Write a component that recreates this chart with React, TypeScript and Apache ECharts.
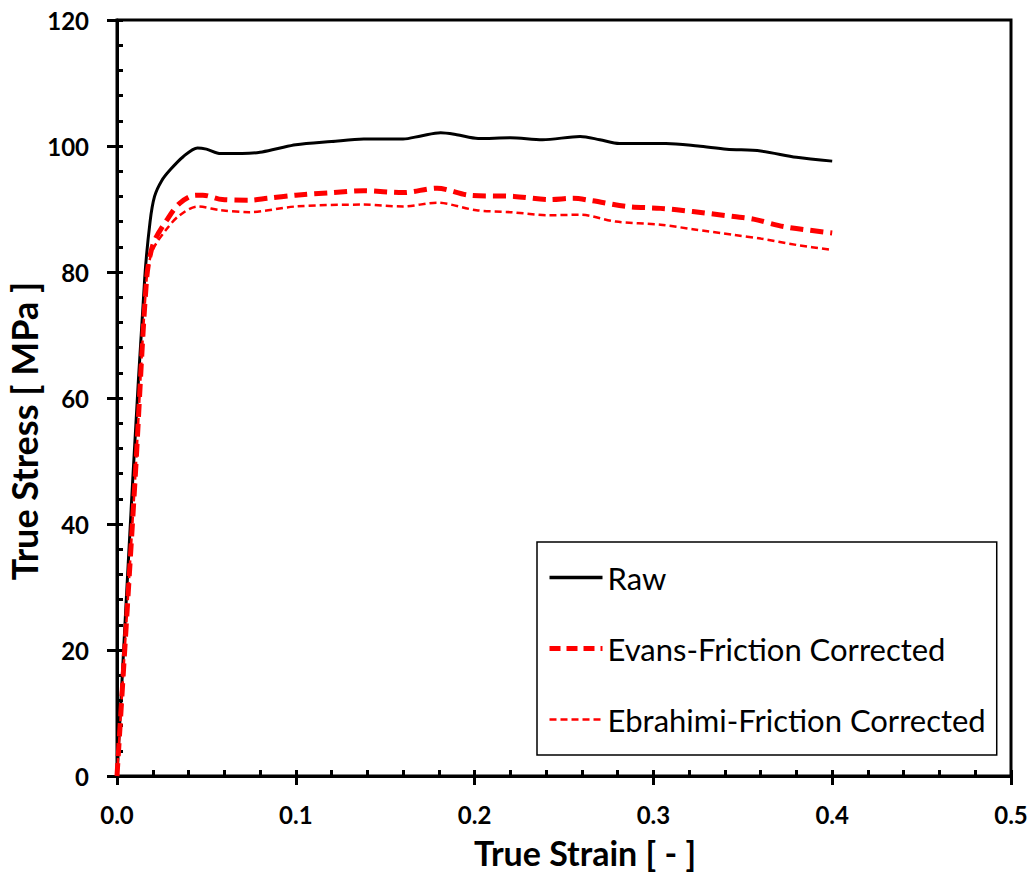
import React, { useEffect, useRef } from "react";
import * as echarts from "echarts";

const xTicks = [0, 0.1, 0.2, 0.3, 0.4, 0.5];
const yTicks = [0, 20, 40, 60, 80, 100, 120];

const seriesNames = ["Raw", "Evans-Friction Corrected", "Ebrahimi-Friction Corrected"];

const rawStrain = [0, 0.0088, 0.0155, 0.0185, 0.021, 0.025, 0.03, 0.037, 0.045, 0.05, 0.058, 0.07, 0.08, 0.09, 0.1, 0.12, 0.138, 0.16, 0.17, 0.181, 0.19, 0.202, 0.22, 0.238, 0.259, 0.27, 0.281, 0.307, 0.325, 0.341, 0.36, 0.38, 0.4];
const rawStress = [0, 47, 79, 88, 92, 94.5, 96.3, 98.3, 99.7, 99.5, 98.8, 98.8, 99.0, 99.6, 100.2, 100.7, 101.1, 101.1, 101.6, 102.1, 101.8, 101.2, 101.3, 101.0, 101.5, 101.0, 100.4, 100.4, 100.0, 99.5, 99.2, 98.2, 97.6];

const evansStrain = [0, 0.0101, 0.0166, 0.0203, 0.028, 0.035, 0.044, 0.048, 0.059, 0.074, 0.084, 0.1, 0.12, 0.138, 0.16, 0.179, 0.197, 0.222, 0.242, 0.255, 0.266, 0.285, 0.304, 0.322, 0.345, 0.356, 0.373, 0.4];
const evansStress = [0, 47, 79, 84.5, 88.3, 90.9, 92.2, 92.2, 91.5, 91.4, 91.7, 92.2, 92.6, 92.9, 92.6, 93.3, 92.2, 92.0, 91.5, 91.7, 91.3, 90.4, 90.1, 89.6, 88.8, 88.4, 87.2, 86.2];

const ebrahimiStrain = [0, 0.0101, 0.0166, 0.02, 0.028, 0.035, 0.045, 0.058, 0.074, 0.1, 0.138, 0.16, 0.179, 0.201, 0.22, 0.242, 0.259, 0.279, 0.304, 0.322, 0.345, 0.36, 0.38, 0.4];
const ebrahimiStress = [0, 47, 79, 83.5, 86.9, 89.0, 90.4, 89.8, 89.5, 90.4, 90.7, 90.4, 91.0, 89.8, 89.5, 89.0, 89.1, 88.0, 87.5, 86.8, 85.9, 85.3, 84.3, 83.5];

const xTitle = "True Strain [ - ]";
const yTitle = "True Stress [ MPa ]";

const zip = (a: number[], b: number[]) => a.map((v, i) => [v, b[i]]);

export default function App() {
  const ref = useRef<HTMLDivElement>(null);
  useEffect(() => {
    if (!ref.current) return;
    const chart = echarts.init(ref.current, null, { renderer: "svg" });
    const font = "Lato";
    const xMin = xTicks[0];
    const xMax = xTicks[xTicks.length - 1];
    const yMin = yTicks[0];
    const yMax = yTicks[yTicks.length - 1];
    const xInt = xTicks[1] - xTicks[0];
    const yInt = yTicks[1] - yTicks[0];
    const axisLine = { show: true, onZero: false, lineStyle: { color: "#000", width: 3 } };
    chart.setOption({
      animation: false,
      backgroundColor: "#fff",
      grid: {
        left: 117,
        top: 20,
        right: 24,
        bottom: 99,
        show: true,
        borderColor: "#000",
        borderWidth: 3,
        backgroundColor: "transparent",
      },
      legend: {
        orient: "vertical",
        left: 537,
        top: 542,
        padding: [19, 11, 19, 10],
        borderColor: "#000",
        borderWidth: 1.5,
        itemWidth: 53,
        itemHeight: 14,
        itemGap: 38,
        itemStyle: { opacity: 0 },
        textStyle: { fontFamily: font, fontSize: 31, color: "#000", lineHeight: 33 },
        data: [
          { name: seriesNames[0], lineStyle: { width: 3.5, color: "#000" } },
          { name: seriesNames[1], lineStyle: { width: 5, color: "#ff0000", type: [11, 6] } },
          { name: seriesNames[2], lineStyle: { width: 2.5, color: "#ff0000", type: [7, 4] } },
        ],
      },
      xAxis: [
        {
          type: "value",
          position: "bottom",
          min: xMin,
          max: xMax,
          interval: xInt,
          axisLine,
          axisTick: { show: true, inside: false, length: 9, lineStyle: { color: "#000", width: 3 } },
          minorTick: { show: false },
          splitLine: { show: false },
          axisLabel: {
            margin: 26,
            fontFamily: font,
            fontSize: 24,
            fontWeight: "bold",
            color: "#000",
            formatter: (v: number) => v.toFixed(1),
          },
        },
        {
          type: "value",
          position: "bottom",
          min: xMin,
          max: xMax,
          interval: xInt,
          axisLine: { show: false },
          axisTick: { show: true, inside: true, length: 6, lineStyle: { color: "#000", width: 3 } },
          minorTick: { show: true, splitNumber: 5, length: 6, lineStyle: { color: "#000", width: 3 } },
          splitLine: { show: false },
          axisLabel: { show: false },
        },
      ],
      yAxis: [
        {
          type: "value",
          position: "left",
          min: yMin,
          max: yMax,
          interval: yInt,
          axisLine,
          axisTick: { show: true, inside: false, length: 10, lineStyle: { color: "#000", width: 3 } },
          minorTick: { show: false },
          splitLine: { show: false },
          axisLabel: {
            margin: 28,
            fontFamily: font,
            fontSize: 24,
            fontWeight: "bold",
            color: "#000",
          },
        },
        {
          type: "value",
          position: "left",
          min: yMin,
          max: yMax,
          interval: yInt,
          axisLine: { show: false },
          axisTick: { show: true, inside: true, length: 6, lineStyle: { color: "#000", width: 3 } },
          minorTick: { show: true, splitNumber: 5, length: 6, lineStyle: { color: "#000", width: 3 } },
          splitLine: { show: false },
          axisLabel: { show: false },
        },
      ],
      graphic: [
        {
          type: "text",
          x: 585,
          y: 852,
          style: {
            text: xTitle,
            fontFamily: font,
            fontSize: 34,
            fontWeight: "bold",
            fill: "#000",
            align: "center",
            verticalAlign: "middle",
          },
        },
        {
          type: "text",
          x: 24,
          y: 431,
          rotation: Math.PI / 2,
          style: {
            text: yTitle,
            fontFamily: font,
            fontSize: 36,
            fontWeight: "bold",
            fill: "#000",
            align: "center",
            verticalAlign: "middle",
          },
        },
      ],
      series: [
        {
          name: seriesNames[0],
          type: "line",
          data: zip(rawStrain, rawStress),
          symbol: "none",
          smooth: 0.3,
          lineStyle: { color: "#000", width: 3 },
          itemStyle: { color: "#000" },
          z: 3,
        },
        {
          name: seriesNames[1],
          type: "line",
          data: zip(evansStrain, evansStress),
          symbol: "none",
          smooth: 0.3,
          lineStyle: { color: "#ff0000", width: 5, type: [13, 7] },
          itemStyle: { color: "#ff0000" },
          z: 4,
        },
        {
          name: seriesNames[2],
          type: "line",
          data: zip(ebrahimiStrain, ebrahimiStress),
          symbol: "none",
          smooth: 0.3,
          lineStyle: { color: "#ff0000", width: 2.5, type: [7, 4] },
          itemStyle: { color: "#ff0000" },
          z: 4,
        },
      ],
    });
    return () => chart.dispose();
  }, []);
  return (
    <div
      ref={ref}
      style={{ position: "fixed", left: 0, top: 0, width: 1035, height: 875, background: "#fff" }}
    />
  );
}
